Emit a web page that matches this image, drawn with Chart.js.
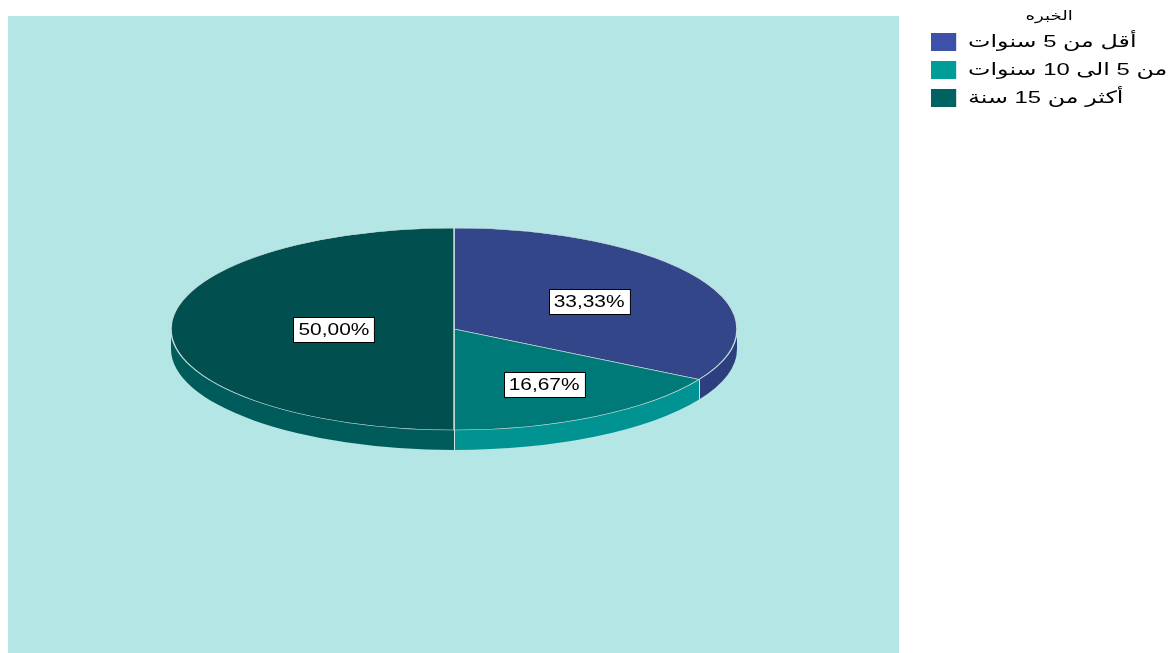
<!DOCTYPE html>
<html lang="ar">
<head>
<meta charset="utf-8">
<title>الخبره</title>
<script src="https://cdn.jsdelivr.net/npm/chart.js@4.4.1/dist/chart.umd.min.js"></script>
<style>
  html, body { margin: 0; padding: 0; background: #fff; }
  #wrap { width: 1173px; height: 653px; }
</style>
</head>
<body>
<div id="wrap"><canvas id="pieChart" width="1173" height="653"></canvas></div>
<script>
// Experience groups and their share of respondents (%)
const legendTitle = 'الخبره';
const categories = ['أقل من 5 سنوات', 'من 5 الى 10 سنوات', 'أكثر من 15 سنة'];
const shares = [33.33, 16.67, 50.00];

// top face, side wall and legend swatch colours per slice
const faceColors = ['#33468a', '#007a78', '#024f4f'];
const sideColors = ['#2d3f7e', '#009391', '#005c5b'];
const swatchColors = ['#3d51aa', '#009c98', '#006361'];

const FONT = "'Liberation Sans', 'DejaVu Sans', Arial, sans-serif";
const CANVAS_W = 1173;
const PLOT = { left: 8, top: 16, right: 899, bottom: 653, color: '#b4e6e6' };
const PIE_CENTER = { x: 454, y: 329 };
const TILT = 101 / 283;     // ellipse height / width
const DEPTH = 20;           // thickness of the disc
const LABEL_STRETCH = 1.23; // value boxes use a wide face
const LEGEND_STRETCH = 1.4; // so does the legend
const LEGEND_LEFT = 917;
const LEGEND_FONT = 17, LEGEND_BOX = 18, LEGEND_PAD = 10;

function pctText(v) {
    return v.toFixed(2).replace('.', ',') + '%';
}

// right padding that puts the legend's left edge at LEGEND_LEFT
function legendPadRight() {
    const c = document.createElement('canvas').getContext('2d');
    c.font = LEGEND_FONT + 'px ' + FONT;
    const textW = Math.max(...categories.map(t => c.measureText(t).width));
    const legendW = LEGEND_PAD + LEGEND_BOX + LEGEND_FONT / 2 + textW + 10;
    return Math.max(0, CANVAS_W - LEGEND_LEFT - legendW);
}

// flattens the pie into an ellipse, adds the side wall and the value boxes
const pie3d = {
    id: 'pie3d',
    beforeDraw(chart) {
        const ctx = chart.ctx;
        ctx.save();
        ctx.fillStyle = PLOT.color;
        ctx.fillRect(PLOT.left, PLOT.top, PLOT.right - PLOT.left, PLOT.bottom - PLOT.top);
        ctx.restore();

        // legend is drawn next; widen it around its left edge
        const lx = chart.legend.left;
        ctx.save();
        ctx.translate(lx, 0);
        ctx.scale(LEGEND_STRETCH, 1);
        ctx.translate(-lx, 0);
    },
    beforeDatasetsDraw(chart) {
        const ctx = chart.ctx;
        ctx.restore();

        const arcs = chart.getDatasetMeta(0).data;
        const rx = arcs[0].outerRadius;
        const ry = rx * TILT;
        const cx = PIE_CENTER.x, cy = PIE_CENTER.y;

        // front half of the wall
        arcs.forEach((arc, i) => {
            const a0 = Math.max(arc.startAngle, 0);
            const a1 = Math.min(arc.endAngle, Math.PI);
            if (a1 <= a0) return;
            ctx.beginPath();
            ctx.ellipse(cx, cy, rx, ry, 0, a0, a1);
            ctx.ellipse(cx, cy + DEPTH, rx, ry, 0, a1, a0, true);
            ctx.closePath();
            ctx.fillStyle = sideColors[i];
            ctx.fill();
        });

        // seams where slices meet on the wall
        ctx.save();
        ctx.strokeStyle = '#d4e2e2';
        ctx.lineWidth = 1;
        arcs.forEach(arc => {
            const a = arc.endAngle;
            if (a > 0 && a < Math.PI) {
                const x = Math.round(cx + rx * Math.cos(a)) + 0.5;
                const y = cy + ry * Math.sin(a);
                ctx.beginPath();
                ctx.moveTo(x, y);
                ctx.lineTo(x, y + DEPTH);
                ctx.stroke();
            }
        });
        ctx.restore();

        ctx.save();
        ctx.translate(cx, cy);
        ctx.scale(1, TILT);
        ctx.translate(-arcs[0].x, -arcs[0].y);
    },
    afterDatasetsDraw(chart) {
        const ctx = chart.ctx;
        ctx.restore();

        const arcs = chart.getDatasetMeta(0).data;
        const cx = PIE_CENTER.x, cy = PIE_CENTER.y;
        ctx.save();
        ctx.font = '17px ' + FONT;
        ctx.textAlign = 'center';
        ctx.textBaseline = 'middle';
        arcs.forEach((arc, i) => {
            // label sits on the centroid of the sector
            const span = arc.endAngle - arc.startAngle;
            const mid = (arc.startAngle + arc.endAngle) / 2;
            const f = 4 * Math.sin(span / 2) / (3 * span);
            const x = cx + f * arc.outerRadius * Math.cos(mid);
            const y = cy + f * arc.outerRadius * TILT * Math.sin(mid);
            const txt = pctText(shares[i]);
            const w = ctx.measureText(txt).width * LABEL_STRETCH + 10;
            const bx = Math.round(x - w / 2) + 0.5;
            const by = Math.round(y - 12.5) + 0.5;
            ctx.fillStyle = '#ffffff';
            ctx.fillRect(bx, by, w, 25);
            ctx.strokeStyle = '#000000';
            ctx.lineWidth = 1;
            ctx.strokeRect(bx, by, w, 25);
            ctx.save();
            ctx.translate(x, y + 1);
            ctx.scale(LABEL_STRETCH, 1);
            ctx.fillStyle = '#000000';
            ctx.fillText(txt, 0, 0);
            ctx.restore();
        });
        ctx.restore();
    }
};

new Chart(document.getElementById('pieChart'), {
    type: 'pie',
    data: {
        labels: categories,
        datasets: [{
            data: shares,
            backgroundColor: faceColors,
            borderColor: '#c8dada',
            borderWidth: 1.5,
            radius: 283,
            clip: false
        }]
    },
    options: {
        responsive: false,
        animation: false,
        events: [],
        layout: { padding: { top: 0, right: legendPadRight(), bottom: 0, left: 0 } },
        plugins: {
            tooltip: { enabled: false },
            legend: {
                position: 'right',
                align: 'start',
                title: {
                    display: true,
                    text: legendTitle,
                    position: 'center',
                    color: '#000',
                    font: { size: 13, family: FONT, lineHeight: 1 },
                    padding: { top: 10, bottom: 0 }
                },
                labels: {
                    boxWidth: LEGEND_BOX,
                    boxHeight: LEGEND_BOX,
                    padding: LEGEND_PAD,
                    color: '#000',
                    font: { size: LEGEND_FONT, family: FONT },
                    generateLabels() {
                        return categories.map((c, i) => ({
                            text: c,
                            fillStyle: swatchColors[i],
                            strokeStyle: swatchColors[i],
                            lineWidth: 0,
                            hidden: false,
                            index: i
                        }));
                    }
                }
            }
        }
    },
    plugins: [pie3d]
});
</script>
</body>
</html>
